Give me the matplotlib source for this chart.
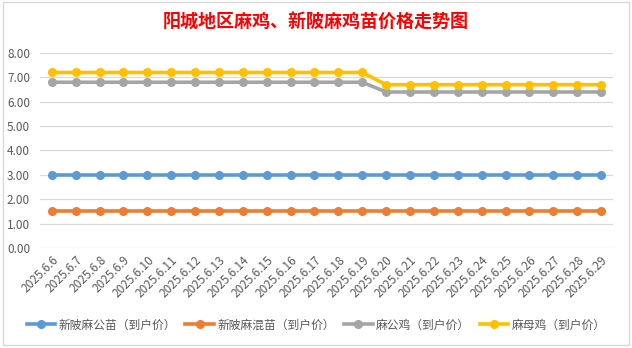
import matplotlib.pyplot as plt
from matplotlib.patches import Rectangle

plt.rcParams['font.family'] = ['Noto Sans CJK SC', 'DejaVu Sans']

dates = ['2025.6.%d' % d for d in range(6, 30)]
xinpi_gongmiao = [3.0] * 24
xinpi_hunmiao = [1.5] * 24
ma_gongji = [6.8] * 14 + [6.4] * 10
ma_muji = [7.2] * 14 + [6.7] * 10

series = [
    ('新陂麻公苗（到户价）', xinpi_gongmiao, '#5B9BD5'),
    ('新陂麻混苗（到户价）', xinpi_hunmiao, '#ED7D31'),
    ('麻公鸡（到户价）', ma_gongji, '#A5A5A5'),
    ('麻母鸡（到户价）', ma_muji, '#FFC000'),
]

fig = plt.figure(figsize=(6.32, 3.48), dpi=100)
fig.patches.append(Rectangle((0.004, 0.009), 0.992, 0.985, transform=fig.transFigure,
                             fill=False, edgecolor='#d9d9d9', linewidth=1))
ax = fig.add_axes([0.063, 0.2874, 0.907, 0.5603])

x = list(range(len(dates)))
for name, vals, col in series:
    ax.plot(x, vals, color=col, linewidth=2.6, marker='o', markersize=5.5,
            label=name, solid_joinstyle='round')

ax.set_xlim(-0.5, len(dates) - 0.5)
ax.set_ylim(0, 8)
ax.set_yticks([i for i in range(9)])
ax.set_yticklabels(['%.2f' % i for i in range(9)])
ax.set_xticks(x)
ax.set_xticklabels(dates, rotation=45, ha='right', rotation_mode='anchor')
ax.tick_params(axis='both', length=0, colors='#595959', labelsize=8.5)
ax.tick_params(axis='y', pad=7)
ax.tick_params(axis='x', pad=4)
ax.grid(axis='y', color='#d9d9d9', linewidth=0.9)
ax.set_axisbelow(True)
for s in ax.spines.values():
    s.set_visible(False)

fig.text(0.5, 0.935, '阳城地区麻鸡、新陂麻鸡苗价格走势图', ha='center', va='center',
         color='#FF0000', fontsize=13, fontweight='bold')

leg = fig.legend(loc='center', bbox_to_anchor=(0.5, 0.066), ncol=4, frameon=False,
                 fontsize=8.5, handlelength=2.4, columnspacing=0.8, handletextpad=0.3,
                 borderaxespad=0)
for t in leg.get_texts():
    t.set_color('#595959')

fig.savefig('out.png', dpi=100)
